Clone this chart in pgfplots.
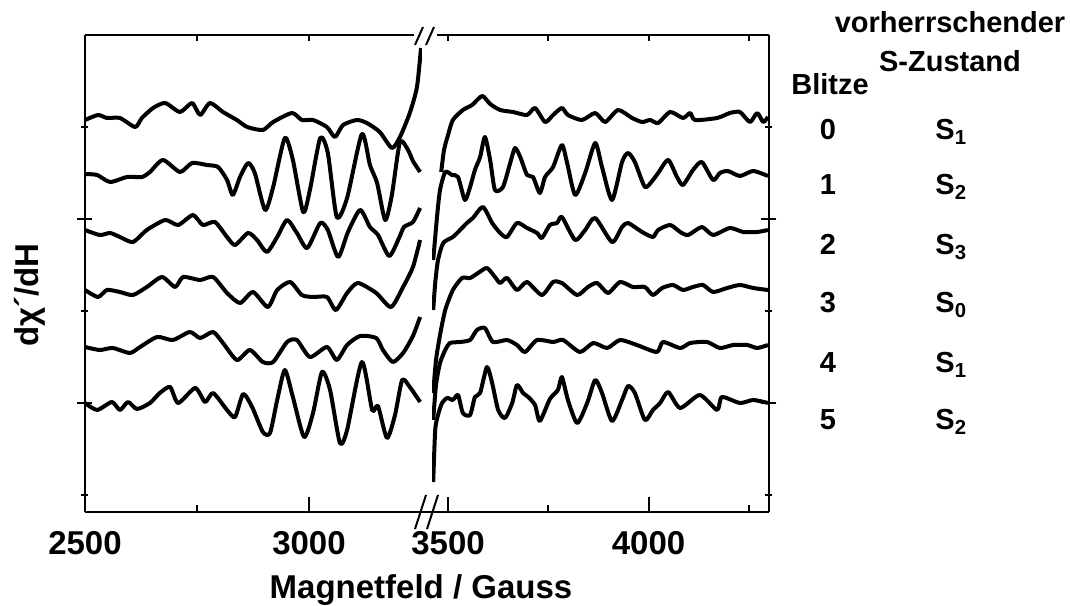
\documentclass[border=0pt]{standalone}
\usepackage{fontspec}
\setmainfont{Liberation Sans}
\usepackage{pgfplots}
\pgfplotsset{compat=1.18}

\begin{document}
\begin{tikzpicture}
\useasboundingbox (0,0) rectangle (535pt,302.5pt);
\pgfplotsset{
  epr/.style={
    scale only axis, height=238.5pt,
    ymin=-512, ymax=-35, enlargelimits=false,
    axis x line=bottom,
    tick align=inside,
    major tick length=7.5pt, minor tick length=3.5pt,
    tick style={black, line width=1pt},
    ytick={-403,-219}, minor ytick={-495,-311,-127},
    yticklabels={},
    /pgf/number format/assume math mode=true,
    /pgf/number format/1000 sep={},
    xticklabel style={font=\fontsize{16.5}{18}\selectfont\bfseries, yshift=-6pt},
  },
  trace/.style={black, line width=2pt, smooth, tension=0.4, line join=round, no markers},
}

% linker Teil
\begin{axis}[epr, at={(42.5pt,46.5pt)}, anchor=south west, width=168.45pt,
  xmin=2500, xmax=3252, axis y line=left,
  axis line style={-, line width=1pt},
  xtick={2500,3000}, minor xtick={2750}]
\addplot[trace] coordinates {(2500,-120)(2529,-115)(2549,-118)(2578,-118)(2612,-127)(2627,-118)(2652,-108)(2679,-103)(2712,-112)(2739,-103)(2757,-115)(2779,-103)(2808,-112)(2839,-120)(2862,-127)(2897,-130)(2920,-122)(2962,-113)(2984,-120)(3009,-120)(3040,-127)(3058,-137)(3076,-125)(3107,-120)(3129,-123)(3158,-132)(3185,-148)(3203,-137)(3225,-113)(3241,-87)(3250,-48)};
\addplot[trace] coordinates {(2500,-174)(2527,-175)(2556,-182)(2594,-177)(2627,-177)(2645,-172)(2674,-160)(2712,-172)(2739,-163)(2772,-165)(2797,-167)(2817,-180)(2830,-195)(2846,-177)(2864,-163)(2879,-173)(2902,-210)(2920,-187)(2946,-138)(2964,-160)(2987,-212)(3002,-190)(3025,-138)(3042,-153)(3062,-217)(3085,-198)(3118,-134)(3136,-165)(3152,-183)(3170,-220)(3185,-195)(3203,-142)(3221,-150)(3232,-161)(3248,-172)};
\addplot[trace] coordinates {(2500,-230)(2533,-235)(2556,-233)(2578,-237)(2607,-242)(2638,-230)(2679,-220)(2708,-225)(2741,-215)(2763,-225)(2790,-222)(2817,-237)(2835,-245)(2864,-233)(2884,-240)(2906,-252)(2929,-237)(2951,-220)(2973,-233)(2996,-248)(3025,-223)(3042,-230)(3065,-257)(3087,-232)(3114,-210)(3136,-227)(3154,-235)(3179,-256)(3201,-238)(3212,-227)(3232,-222)(3248,-208)};
\addplot[trace] coordinates {(2500,-290)(2529,-297)(2549,-290)(2578,-292)(2607,-295)(2638,-287)(2672,-277)(2701,-287)(2719,-277)(2757,-280)(2786,-277)(2817,-293)(2846,-303)(2875,-292)(2908,-307)(2929,-290)(2958,-282)(2984,-295)(3009,-297)(3040,-297)(3060,-310)(3085,-293)(3109,-283)(3150,-293)(3183,-307)(3210,-287)(3232,-267)(3248,-240)};
\addplot[trace] coordinates {(2500,-347)(2533,-350)(2562,-348)(2600,-353)(2623,-347)(2661,-337)(2696,-340)(2734,-332)(2757,-338)(2786,-332)(2808,-343)(2839,-360)(2868,-350)(2897,-362)(2920,-362)(2951,-342)(2973,-340)(3002,-357)(3040,-347)(3062,-360)(3085,-345)(3114,-336)(3150,-338)(3165,-350)(3187,-362)(3210,-353)(3232,-336)(3248,-317)};
\addplot[trace] coordinates {(2500,-403)(2527,-410)(2560,-402)(2578,-410)(2596,-402)(2616,-409)(2645,-403)(2667,-393)(2690,-387)(2708,-403)(2746,-388)(2768,-402)(2786,-393)(2817,-410)(2835,-417)(2853,-394)(2873,-407)(2897,-432)(2913,-433)(2929,-400)(2946,-370)(2964,-397)(2989,-437)(3009,-413)(3029,-372)(3047,-390)(3069,-443)(3085,-430)(3118,-362)(3141,-410)(3154,-406)(3174,-438)(3192,-415)(3208,-380)(3225,-387)(3248,-402)};
\end{axis}

% rechter Teil
\begin{axis}[epr, at={(216pt,46.5pt)}, anchor=south west, width=168.4pt,
  xmin=3460, xmax=4300, axis y line=right,
  axis line style={-, line width=1pt},
  xtick={3500,4000}, minor xtick={3750,4250}]
\addplot[trace] coordinates {(3483,-172)(3490,-150)(3500,-135)(3512,-120)(3537,-110)(3560,-105)(3585,-96)(3605,-104)(3630,-110)(3662,-112)(3697,-115)(3717,-108)(3742,-122)(3762,-115)(3784,-108)(3799,-115)(3834,-120)(3867,-113)(3892,-122)(3924,-110)(3959,-118)(3984,-122)(4004,-120)(4024,-123)(4054,-112)(4086,-118)(4104,-113)(4116,-120)(4171,-118)(4203,-113)(4228,-112)(4253,-122)(4271,-113)(4286,-122)(4298,-117)};
\addplot[trace] coordinates {(3463,-260)(3473,-215)(3480,-190)(3493,-172)(3510,-175)(3525,-177)(3542,-200)(3555,-187)(3567,-170)(3580,-157)(3592,-137)(3605,-160)(3617,-190)(3637,-187)(3655,-163)(3667,-148)(3680,-157)(3697,-175)(3712,-177)(3729,-193)(3742,-177)(3762,-167)(3784,-145)(3797,-163)(3817,-195)(3842,-173)(3867,-143)(3884,-167)(3909,-200)(3934,-162)(3949,-153)(3966,-162)(3991,-187)(4011,-180)(4024,-173)(4049,-160)(4071,-177)(4086,-185)(4111,-170)(4133,-162)(4161,-180)(4178,-173)(4198,-171)(4228,-176)(4261,-171)(4298,-176)};
\addplot[trace] coordinates {(3463,-310)(3468,-283)(3475,-260)(3488,-243)(3512,-237)(3530,-230)(3547,-223)(3562,-218)(3587,-207)(3610,-223)(3630,-233)(3647,-237)(3672,-223)(3697,-228)(3722,-233)(3734,-238)(3754,-225)(3772,-223)(3784,-217)(3817,-240)(3842,-230)(3867,-218)(3909,-242)(3934,-227)(3949,-223)(3984,-232)(4011,-237)(4024,-230)(4054,-225)(4079,-232)(4099,-235)(4133,-227)(4161,-235)(4203,-228)(4236,-232)(4271,-232)(4298,-230)};
\addplot[trace] coordinates {(3463,-393)(3470,-360)(3480,-335)(3493,-310)(3512,-290)(3535,-278)(3555,-278)(3575,-273)(3597,-268)(3617,-277)(3630,-283)(3647,-278)(3672,-290)(3697,-282)(3734,-295)(3762,-282)(3784,-283)(3822,-295)(3849,-287)(3872,-283)(3899,-293)(3929,-282)(3961,-287)(3991,-287)(4011,-295)(4034,-288)(4061,-285)(4086,-290)(4111,-287)(4136,-285)(4161,-292)(4196,-288)(4228,-285)(4261,-288)(4298,-290)};
\addplot[trace] coordinates {(3463,-420)(3470,-385)(3480,-363)(3493,-350)(3505,-343)(3530,-342)(3555,-340)(3572,-330)(3592,-328)(3612,-342)(3647,-340)(3672,-345)(3692,-352)(3722,-340)(3762,-342)(3787,-340)(3829,-352)(3862,-343)(3897,-348)(3929,-340)(3971,-345)(4021,-352)(4036,-342)(4079,-348)(4104,-343)(4146,-342)(4178,-348)(4211,-345)(4246,-345)(4271,-348)(4298,-345)};
\addplot[trace] coordinates {(3463,-482)(3468,-430)(3475,-415)(3485,-403)(3498,-398)(3512,-400)(3525,-395)(3537,-413)(3555,-415)(3567,-397)(3580,-393)(3597,-367)(3610,-383)(3625,-410)(3642,-418)(3660,-403)(3672,-385)(3687,-393)(3700,-397)(3717,-405)(3729,-421)(3754,-399)(3774,-390)(3784,-377)(3799,-400)(3822,-423)(3847,-403)(3867,-380)(3884,-393)(3909,-421)(3934,-400)(3949,-386)(3966,-393)(3991,-420)(4011,-410)(4029,-403)(4049,-392)(4079,-408)(4128,-395)(4171,-410)(4183,-397)(4228,-403)(4261,-400)(4298,-403)};
\end{axis}

% Rahmen oben, Achsenbruch
\begin{scope}[line width=1pt]
\draw (42.5pt,285pt) -- (207pt,285pt);
\draw (218.5pt,285pt) -- (384.4pt,285pt);
\foreach \xx in {98.5,154.5,224,274.1,324.25,374.4} \draw (\xx pt,285pt) -- (\xx pt,282pt);
\draw (210.9pt,46.5pt) -- (216.5pt,46.5pt);
\draw (207.5pt,280pt) -- (211.5pt,289pt);
\draw (213pt,280pt) -- (217pt,289pt);
\draw (207.5pt,38pt) -- (213pt,55pt);
\draw (213.5pt,38pt) -- (219pt,55pt);
\end{scope}

\node[font=\fontsize{16.5}{18}\selectfont\bfseries, anchor=base] at (210.5pt,3.5pt) {Magnetfeld / Gauss};
\node[font=\fontsize{16.5}{18}\selectfont\bfseries, rotate=90] at (15pt,155pt) {dχ´/dH};

\begin{scope}[font=\fontsize{14.5}{17}\selectfont\bfseries]
\node[anchor=base] at (475pt,286pt) {vorherrschender};
\node[anchor=base] at (475pt,266.5pt) {S-Zustand};
\node[anchor=base] at (415pt,255pt) {Blitze};
\node[anchor=base] at (414pt,232.5pt) {0};
\node[anchor=base] at (414pt,205pt) {1};
\node[anchor=base] at (414pt,175pt) {2};
\node[anchor=base] at (414pt,146pt) {3};
\node[anchor=base] at (414pt,116pt) {4};
\node[anchor=base] at (414pt,87.5pt) {5};
\node[anchor=base west, inner sep=0pt] at (467.5pt,232.5pt) {S\textsubscript{1}};
\node[anchor=base west, inner sep=0pt] at (467.5pt,205pt) {S\textsubscript{2}};
\node[anchor=base west, inner sep=0pt] at (467.5pt,175pt) {S\textsubscript{3}};
\node[anchor=base west, inner sep=0pt] at (467.5pt,146pt) {S\textsubscript{0}};
\node[anchor=base west, inner sep=0pt] at (467.5pt,116pt) {S\textsubscript{1}};
\node[anchor=base west, inner sep=0pt] at (467.5pt,87.5pt) {S\textsubscript{2}};
\end{scope}
\end{tikzpicture}
\end{document}
